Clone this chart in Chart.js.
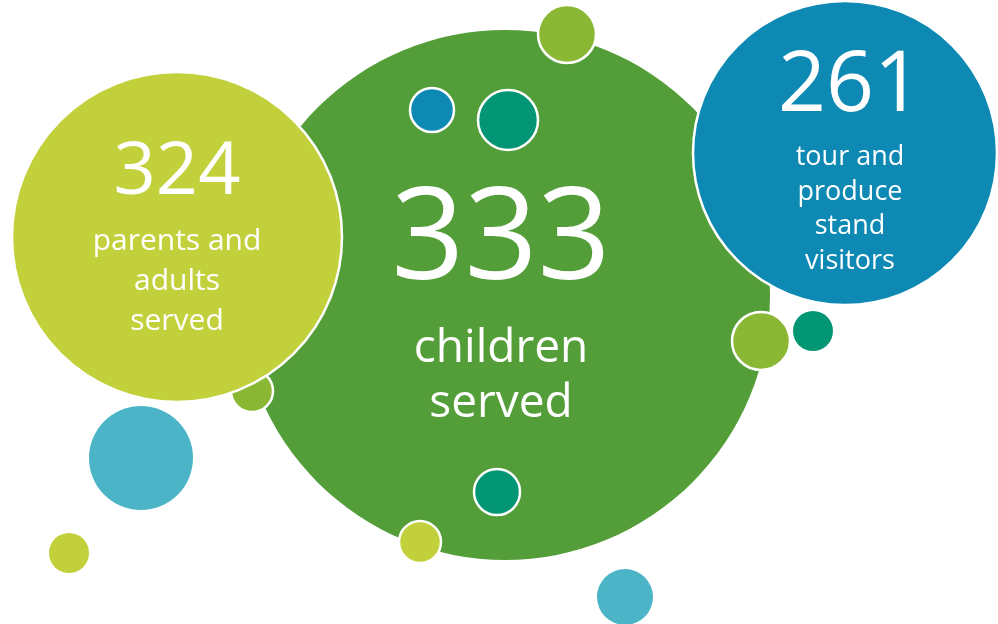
<!DOCTYPE html>
<html lang="en">
<head>
  <meta charset="UTF-8">
  <title>Bubbles</title>
  <script src="https://cdn.jsdelivr.net/npm/chart.js"></script>
  <style>
    body { margin: 0; background: #fff; }
    #wrap { width: 998px; height: 624px; position: relative; }
  </style>
</head>
<body>
  <div id="wrap"><canvas id="myChart"></canvas></div>
  <script>
    // bubbles, listed in drawing order (later ones sit on top)
    const bubbleX = [505, 567, 432, 508, 252, 177, 845, 761, 813, 497, 420, 141, 69, 625];
    const bubbleY = [295, 34, 110, 120, 391, 237, 153, 341, 331, 492, 542, 458, 553, 597];
    const bubbleR = [265, 29, 22, 30, 21, 165, 152, 29, 20, 23, 21, 52, 20, 28];
    const bubbleKind = ['green', 'olive', 'blue', 'teal', 'olive', 'lime', 'blue', 'olive', 'teal', 'teal', 'lime', 'cyan', 'lime', 'cyan'];
    const outlined = [false, true, true, true, true, true, true, true, false, true, true, false, false, false];

    // the three figures and the bubble each one sits in
    const figures = ['324', '333', '261'];
    const figureBubble = [5, 0, 6];
    const captions = [
      ['parents and', 'adults', 'served'],
      ['children', 'served'],
      ['tour and', 'produce', 'stand', 'visitors']
    ];

    const palette = {
      green: '#549e39',
      lime: '#c2d13b',
      blue: '#0e89b4',
      teal: '#039675',
      olive: '#8bb834',
      cyan: '#4bb4c6'
    };

    const textStyle = [
      { dx: 0, numSize: 74, numY: -64, capSize: 30, capY: 13, gap: 40 },
      { dx: -4, numSize: 128, numY: -52, capSize: 46, capY: 67, gap: 55 },
      { dx: 5, numSize: 84, numY: -66, capSize: 27, capY: 12, gap: 34.5 }
    ];

    const points = bubbleX.map((x, i) => ({ x: x, y: bubbleY[i], r: bubbleR[i] }));

    const labelPlugin = {
      id: 'bubbleText',
      afterDatasetsDraw(chart) {
        const ctx = chart.ctx;
        const xs = chart.scales.x, ys = chart.scales.y;
        ctx.save();
        ctx.fillStyle = '#ffffff';
        ctx.textAlign = 'center';
        figures.forEach((fig, k) => {
          const b = figureBubble[k];
          const st = textStyle[k];
          const cx = xs.getPixelForValue(bubbleX[b]) + st.dx;
          const cy = ys.getPixelForValue(bubbleY[b]);
          ctx.textBaseline = 'middle';
          ctx.font = '400 ' + st.numSize + 'px "Open Sans"';
          ctx.fillText(fig, cx, cy + st.numY);
          ctx.textBaseline = 'alphabetic';
          ctx.font = '400 ' + st.capSize + 'px "Open Sans"';
          captions[k].forEach((line, j) => {
            ctx.fillText(line, cx, cy + st.capY + j * st.gap);
          });
        });
        ctx.restore();
      }
    };

    new Chart(document.getElementById('myChart'), {
      type: 'bubble',
      data: {
        datasets: [{
          data: points,
          backgroundColor: bubbleKind.map(k => palette[k]),
          borderColor: '#ffffff',
          borderWidth: outlined.map(o => o ? 2.5 : 0),
          clip: false
        }]
      },
      options: {
        responsive: true,
        maintainAspectRatio: false,
        animation: false,
        events: [],
        layout: { padding: 0, autoPadding: false },
        plugins: { legend: { display: false }, tooltip: { enabled: false } },
        scales: {
          x: { type: 'linear', min: 0, max: 998, display: false },
          y: { type: 'linear', min: 0, max: 624, reverse: true, display: false }
        }
      },
      plugins: [labelPlugin]
    });
  </script>
</body>
</html>
